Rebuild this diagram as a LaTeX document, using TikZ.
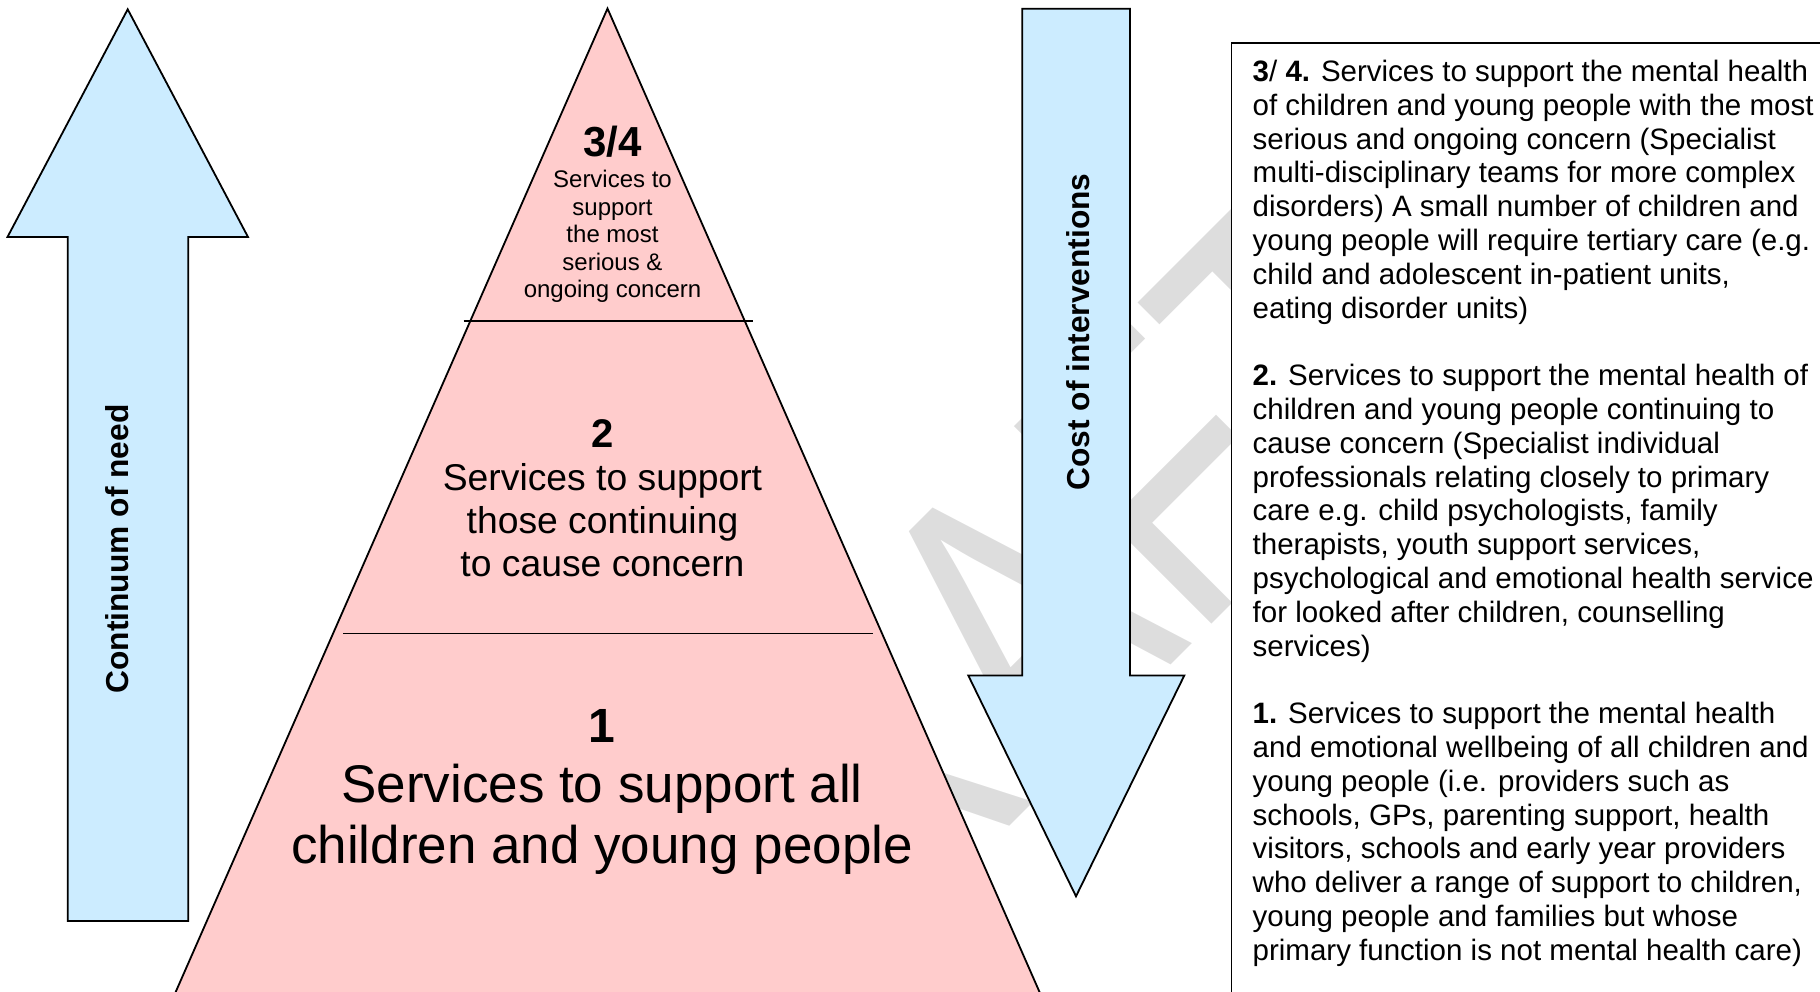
\documentclass[tikz,border=0pt]{standalone}
\usepackage{fontspec}
\setmainfont{Liberation Sans}
\definecolor{pyrpink}{RGB}{255,204,204}
\definecolor{arrowblue}{RGB}{204,236,255}
\definecolor{wmgray}{RGB}{221,221,221}
\begin{document}
\begin{tikzpicture}[x=1pt,y=-1pt,
  outl/.style={draw=black, line width=1.8pt, line join=miter},
  bluearrow/.style={outl, fill=arrowblue},
  divider/.style={draw=black, line width=1.6pt},
  ptext/.style={inner sep=0pt, anchor=base},
  lbl/.style={inner sep=0pt, anchor=base, rotate=90, font=\bfseries\fontsize{31.7}{31.7}\selectfont},
  boxline/.style={inner sep=0pt, anchor=base west, font=\fontsize{29.5}{33.8}\selectfont},
  watermark/.style={inner sep=0pt, anchor=base west, transform shape, text=wmgray, font=\fontsize{406}{406}\selectfont}
]
\useasboundingbox (0,0) rectangle (1820,991);
\clip (0,0) rectangle (1820,991);

% watermark
\begin{scope}[shift={(720.5,1115.5)}, rotate=45, xscale=0.78]
  \node[watermark] (wm) at (0,0) {DRAFT};
\end{scope}

% pyramid
\path[outl, fill=pyrpink] (607.5,8.5) -- (150.2,1050) -- (1065,1050) -- cycle;
\draw[divider] (463.5,321) -- (752.5,321);
\draw[divider] (343,633.5) -- (873,633.5);

% pyramid texts
\node[ptext, font=\bfseries\fontsize{42}{42}\selectfont] (n34) at (612.5,156.5) {3/4};
\foreach \txt [count=\i from 0] in {{Services to},{support},{the most},{serious \&},{ongoing concern}}{
  \node[ptext, font=\fontsize{24}{24}\selectfont] (t\i) at (612.5,187.5+27.6*\i) {\txt};
}
\node[ptext, font=\bfseries\fontsize{40}{40}\selectfont] (n2) at (602.5,447.5) {2};
\foreach \txt [count=\i from 0] in {{Services to support},{those continuing},{to cause concern}}{
  \node[ptext, font=\fontsize{37.3}{37.3}\selectfont] (s\i) at (602.5,490+43*\i) {\txt};
}
\node[ptext, font=\bfseries\fontsize{48}{48}\selectfont] (n1) at (602,742) {1};
\foreach \txt [count=\i from 0] in {{Services to support all},{children and young people}}{
  \node[ptext, font=\fontsize{53}{53}\selectfont] (u\i) at (602,802.5+60.5*\i) {\txt};
}

% left arrow
\draw[bluearrow] (127.7,9.3) -- (248,237) -- (188.3,237) -- (188.3,921) -- (67.7,921) -- (67.7,237) -- (7.5,237) -- cycle;
\node[lbl] (need) at (128.3,549) {Continuum of need};

% right arrow
\draw[bluearrow] (1022.3,8.8) -- (1130,8.8) -- (1130,675.5) -- (1184.3,675.5) -- (1076,896.3) -- (968.3,675.5) -- (1022.3,675.5) -- cycle;
\node[lbl] (cost) at (1089.3,332) {Cost of interventions};

% text box
\draw[outl, fill=white] (1231.5,43) rectangle (1840,1010);
\foreach \txt [count=\i from 0] in {
  {\textbf{3}/ \textbf{4.} Services to support the mental health},
  {of children and young people with the most},
  {serious and ongoing concern (Specialist},
  {multi-disciplinary teams for more complex},
  {disorders) A small number of children and},
  {young people will require tertiary care (e.g.},
  {child and adolescent in-patient units,},
  {eating disorder units)}}{
  \node[boxline] (pa\i) at (1252.5,81.5+33.8*\i) {\txt};
}
\foreach \txt [count=\i from 0] in {
  {\textbf{2.} Services to support the mental health of},
  {children and young people continuing to},
  {cause concern (Specialist individual},
  {professionals relating closely to primary},
  {care e.g. child psychologists, family},
  {therapists, youth support services,},
  {psychological and emotional health service},
  {for looked after children, counselling},
  {services)}}{
  \node[boxline] (pb\i) at (1252.5,385.7+33.8*\i) {\txt};
}
\foreach \txt [count=\i from 0] in {
  {\textbf{1.} Services to support the mental health},
  {and emotional wellbeing of all children and},
  {young people (i.e. providers such as},
  {schools, GPs, parenting support, health},
  {visitors, schools and early year providers},
  {who deliver a range of support to children,},
  {young people and families but whose},
  {primary function is not mental health care)}}{
  \node[boxline] (pc\i) at (1252.5,723.7+33.8*\i) {\txt};
}
\end{tikzpicture}
\end{document}
